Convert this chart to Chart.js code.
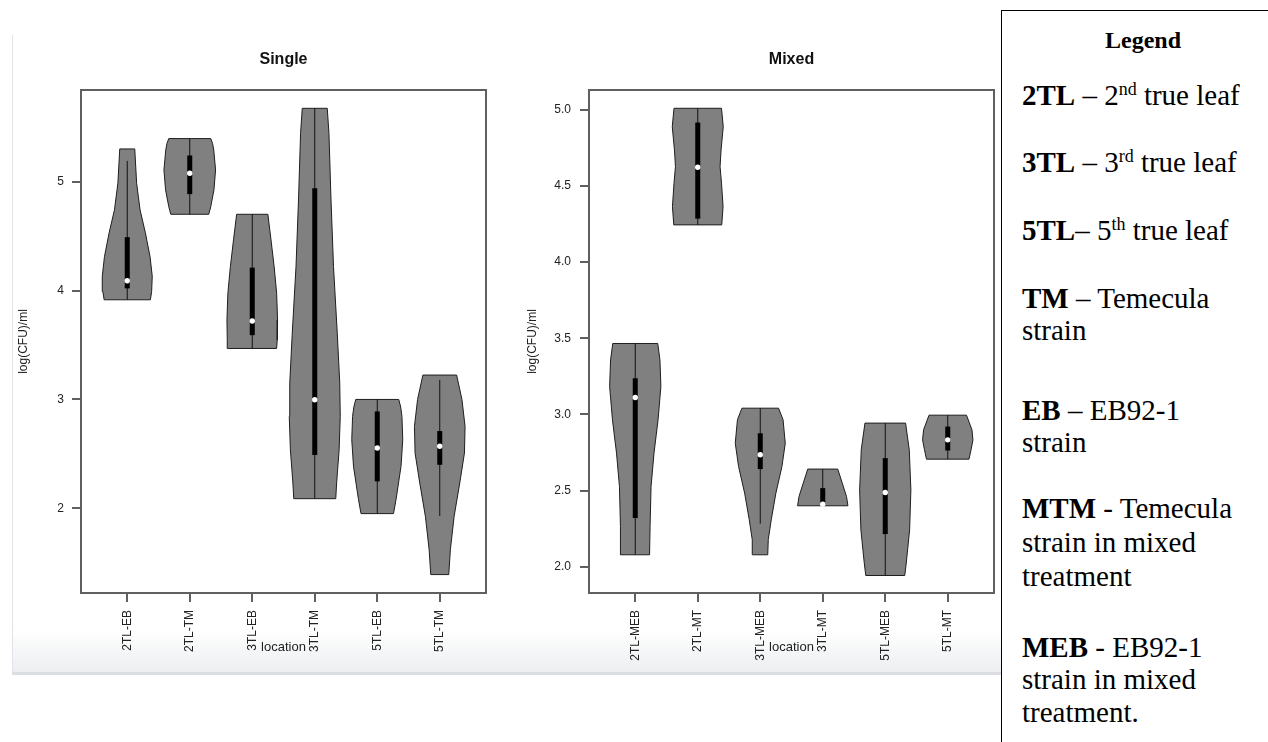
<!DOCTYPE html>
<html>
<head>
<meta charset="utf-8">
<script src="https://cdn.jsdelivr.net/npm/chart.js@4.4.0/dist/chart.umd.min.js"></script>
<style>
body { margin: 0; width: 1268px; height: 742px; background: #fff; position: relative; overflow: hidden; }
#frame { position: absolute; left: 12px; top: 35px; width: 989px; height: 637px; border-left: 1px solid #e0e4e9; border-bottom: 3px solid #dadde1;
  background: linear-gradient(to bottom, rgba(255,255,255,0) 0, rgba(255,255,255,0) 595px, #eceef0 100%); }
canvas { position: absolute; top: 40px; }
#single { left: 0; }
#mixed { left: 500px; }
#legendBox { position: absolute; left: 1001px; top: 10px; width: 320px; height: 800px; border: 1px solid #000; background: #fff; }
.lg { position: absolute; left: 1022px; font-family: "Liberation Serif", "Times New Roman", serif; font-size: 29px; line-height: 29px; color: #000; white-space: nowrap; }
.lg sup { font-size: 0.62em; vertical-align: 0; position: relative; top: -0.55em; }
#lgTitle { left: 1043px; width: 200px; text-align: center; font-size: 24px; line-height: 24px; font-weight: bold; }
</style>
</head>
<body>
<div id="frame"></div>
<canvas id="single" width="500" height="633"></canvas>
<canvas id="mixed" width="500" height="633"></canvas>
<div id="legendBox"></div>
<div class="lg" id="lgTitle" style="top:28px">Legend</div>
<div class="lg" style="top:81px"><b>2TL</b> – 2<sup>nd</sup> true leaf</div>
<div class="lg" style="top:148px"><b>3TL</b> – 3<sup>rd</sup> true leaf</div>
<div class="lg" style="top:216px"><b>5TL</b>– 5<sup>th</sup> true leaf</div>
<div class="lg" style="top:284px"><b>TM</b> – Temecula</div>
<div class="lg" style="top:316px">strain</div>
<div class="lg" style="top:396px"><b>EB</b> – EB92-1</div>
<div class="lg" style="top:428px">strain</div>
<div class="lg" style="top:494px"><b>MTM</b> - Temecula</div>
<div class="lg" style="top:528px">strain in mixed</div>
<div class="lg" style="top:562px">treatment</div>
<div class="lg" style="top:633px"><b>MEB</b> - EB92-1</div>
<div class="lg" style="top:665px">strain in mixed</div>
<div class="lg" style="top:698px">treatment.</div>
<script>
"use strict";
Chart.defaults.font.family = '"Liberation Sans", Arial, sans-serif';
Chart.defaults.animation = false;

// ---- Single panel ----
const singleCats = ["2TL-EB", "2TL-TM", "3TL-EB", "3TL-TM", "5TL-EB", "5TL-TM"];
const singleMin = [3.915, 4.70, 3.468, 2.089, 1.952, 1.93];
const singleQ1 = [4.02, 4.885, 3.59, 2.49, 2.248, 2.40];
const singleMed = [4.09, 5.077, 3.72, 2.997, 2.554, 2.57];
const singleQ3 = [4.49, 5.24, 4.21, 4.94, 2.89, 2.71];
const singleMax = [5.19, 5.395, 4.70, 5.673, 3.0, 3.18];
// density outline: y levels and half widths (in category units)
const singleLevels = [
    [5.30, 4.985, 4.74, 4.53, 4.31, 4.13, 3.99, 3.915],
    [5.395, 5.35, 5.29, 5.107, 4.924, 4.77, 4.70],
    [4.70, 4.465, 4.22, 3.976, 3.73, 3.548, 3.468],
    [5.673, 5.444, 4.832, 4.22, 3.609, 3.15, 2.844, 2.538, 2.233, 2.089],
    [3.0, 2.93, 2.844, 2.63, 2.385, 2.08, 1.952],
    [3.224, 3.0, 2.752, 2.508, 2.233, 1.927, 1.621, 1.392],
];
const singleWidths = [
    [0.12, 0.15, 0.205, 0.29, 0.365, 0.40, 0.39, 0.37],
    [0.336, 0.365, 0.384, 0.413, 0.387, 0.336, 0.304],
    [0.25, 0.30, 0.35, 0.39, 0.405, 0.40, 0.39],
    [0.20, 0.227, 0.26, 0.30, 0.36, 0.40, 0.408, 0.39, 0.35, 0.336],
    [0.344, 0.375, 0.395, 0.408, 0.38, 0.30, 0.26],
    [0.27, 0.355, 0.405, 0.395, 0.32, 0.23, 0.17, 0.144],
];
const singleTicks = [2, 3, 4, 5];

// ---- Mixed panel ----
const mixedCats = ["2TL-MEB", "2TL-MT", "3TL-MEB", "3TL-MT", "5TL-MEB", "5TL-MT"];
const mixedMin = [2.078, 4.245, 2.282, 2.40, 1.942, 2.706];
const mixedQ1 = [2.319, 4.286, 2.641, 2.41, 2.214, 2.763];
const mixedMed = [3.111, 4.624, 2.735, 2.41, 2.487, 2.833];
const mixedQ3 = [3.238, 4.917, 2.876, 2.516, 2.713, 2.92];
const mixedMax = [3.466, 5.011, 3.041, 2.641, 2.943, 2.995];
const mixedLevels = [
    [3.466, 3.358, 3.183, 2.965, 2.746, 2.527, 2.264, 2.078],
    [5.011, 4.89, 4.737, 4.628, 4.519, 4.365, 4.245],
    [3.041, 2.965, 2.811, 2.658, 2.483, 2.308, 2.177, 2.078],
    [2.641, 2.549, 2.461, 2.40],
    [2.943, 2.768, 2.505, 2.242, 2.024, 1.942],
    [2.995, 2.899, 2.833, 2.768, 2.706],
];
const mixedWidths = [
    [0.36, 0.395, 0.41, 0.365, 0.30, 0.253, 0.237, 0.229],
    [0.38, 0.408, 0.373, 0.357, 0.38, 0.405, 0.384],
    [0.293, 0.365, 0.40, 0.347, 0.25, 0.176, 0.128, 0.12],
    [0.24, 0.312, 0.38, 0.403],
    [0.325, 0.384, 0.41, 0.39, 0.336, 0.312],
    [0.30, 0.387, 0.403, 0.373, 0.34],
];
const mixedTicks = [2.0, 2.5, 3.0, 3.5, 4.0, 4.5, 5.0];

function violinSets(levels, widths, mins, q1s, meds, q3s, maxs) {
    let sets = [];
    levels.forEach((lv, i) => {
        const c = i + 1;
        const w = widths[i];
        let outline = lv.map((y, j) => ({ x: c + w[j], y: y }));
        for (let j = lv.length - 1; j >= 0; j--) {
            outline.push({ x: c - w[j], y: lv[j] });
        }
        outline.push(outline[0]);
        sets.push({ data: outline, showLine: true, fill: "shape", backgroundColor: "#808080",
            borderColor: "#1e1e1e", borderWidth: 1, pointRadius: 0, tension: 0, order: 4 });
        sets.push({ data: [{ x: c, y: mins[i] }, { x: c, y: maxs[i] }], showLine: true,
            borderColor: "#111", borderWidth: 1, pointRadius: 0, order: 3 });
        sets.push({ data: [{ x: c, y: q1s[i] }, { x: c, y: q3s[i] }], showLine: true,
            borderColor: "#000", borderWidth: 5, pointRadius: 0, order: 2 });
        sets.push({ data: [{ x: c, y: meds[i] }], pointRadius: 2.7, pointBackgroundColor: "#fff",
            pointBorderWidth: 0, order: 1 });
    });
    return sets;
}

const boxFrame = {
    id: "boxFrame",
    afterDraw(chart) {
        const { ctx, chartArea } = chart;
        ctx.save();
        ctx.strokeStyle = "#606060";
        ctx.lineWidth = 2;
        ctx.strokeRect(chartArea.left, chartArea.top, chartArea.right - chartArea.left, chartArea.bottom - chartArea.top);
        ctx.restore();
    },
};

function panelConfig(title, cats, sets, yMin, yMax, yTicks, yFmt, yWidth, yTitlePad, yTickPad, padRight) {
    return {
        type: "scatter",
        data: { datasets: sets },
        plugins: [boxFrame],
        options: {
            responsive: false,
            events: [],
            layout: { padding: { top: 0, left: 0, right: padRight, bottom: 0 } },
            plugins: {
                legend: { display: false },
                tooltip: { enabled: false },
                title: { display: true, text: title, fullSize: false, color: "#111",
                    font: { size: 16, weight: "bold" }, padding: { top: 9.6, bottom: 21.2 } },
            },
            scales: {
                x: {
                    type: "linear", min: 0.26, max: 6.74,
                    afterBuildTicks: (s) => { s.ticks = cats.map((c, i) => ({ value: i + 1 })); },
                    afterFit: (s) => { s.height = 80; },
                    ticks: { callback: (v) => cats[v - 1], minRotation: 90, maxRotation: 90, autoSkip: false,
                        padding: 8, color: "#222", font: { size: 12 } },
                    grid: { drawOnChartArea: false, tickLength: 9, color: "#606060", lineWidth: 2 },
                    border: { display: false },
                    title: { display: true, text: "location", color: "#222", font: { size: 13 },
                        padding: { top: 0, bottom: 18 } },
                },
                y: {
                    min: yMin, max: yMax,
                    afterBuildTicks: (s) => { s.ticks = yTicks.map((v) => ({ value: v })); },
                    afterFit: (s) => { s.width = yWidth; },
                    ticks: { callback: yFmt, padding: yTickPad, color: "#222", font: { size: 12 } },
                    grid: { drawOnChartArea: false, tickLength: 9, color: "#606060", lineWidth: 2 },
                    border: { display: false },
                    title: { display: true, text: "log(CFU)/ml", color: "#222", font: { size: 12 },
                        padding: { top: yTitlePad, bottom: 0 } },
                },
            },
        },
    };
}

new Chart(document.querySelector("#single"), panelConfig("Single", singleCats,
    violinSets(singleLevels, singleWidths, singleMin, singleQ1, singleMed, singleQ3, singleMax),
    1.223, 5.841, singleTicks, (v) => String(v), 81, 16, 8, 14));
new Chart(document.querySelector("#mixed"), panelConfig("Mixed", mixedCats,
    violinSets(mixedLevels, mixedWidths, mixedMin, mixedQ1, mixedMed, mixedQ3, mixedMax),
    1.827, 5.131, mixedTicks, (v) => v.toFixed(1), 89, 25, 9, 6));
</script>
</body>
</html>
